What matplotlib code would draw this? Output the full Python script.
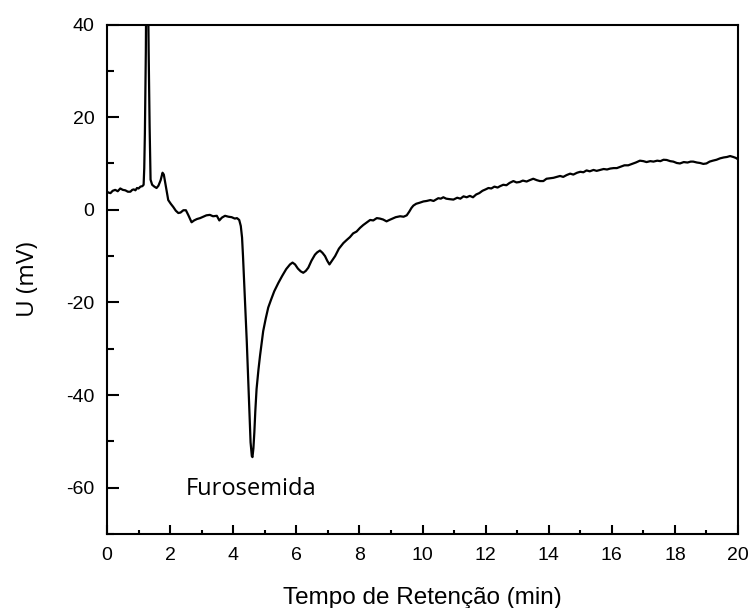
import numpy as np
import matplotlib
matplotlib.use('Agg')
import matplotlib.pyplot as plt
from matplotlib.ticker import MultipleLocator

plt.rcParams['axes.unicode_minus'] = False

tempo = [0.00, 0.05, 0.11, 0.18, 0.26, 0.34, 0.42, 0.50, 0.58, 0.66, 0.74, 0.80, 0.85, 0.90, 0.95, 1.00,
         1.06, 1.12, 1.16, 1.18, 1.20, 1.23, 1.25, 1.29, 1.32, 1.35, 1.38, 1.43, 1.50, 1.57, 1.63, 1.70,
         1.76, 1.80, 1.87, 1.94, 2.02, 2.10, 2.18, 2.26, 2.33, 2.42, 2.50, 2.58, 2.68, 2.76, 2.85, 2.95,
         3.05, 3.15, 3.26, 3.36, 3.48, 3.56, 3.64, 3.74, 3.85, 3.95, 4.05, 4.12, 4.19, 4.24, 4.28, 4.31,
         4.37, 4.43, 4.48, 4.52, 4.55, 4.59, 4.61, 4.64, 4.67, 4.70, 4.74, 4.80, 4.85, 4.95, 5.03, 5.11,
         5.20, 5.30, 5.43, 5.55, 5.68, 5.80, 5.88, 5.96, 6.05, 6.14, 6.22, 6.30, 6.38, 6.48, 6.59, 6.66,
         6.75, 6.83, 6.91, 6.98, 7.05, 7.13, 7.23, 7.35, 7.49, 7.60, 7.70, 7.80, 7.91, 8.02, 8.12, 8.22,
         8.34, 8.44, 8.55, 8.65, 8.75, 8.86, 8.95, 9.05, 9.15, 9.29, 9.40, 9.50, 9.58, 9.65, 9.71, 9.80,
         9.90, 10.03, 10.13, 10.25, 10.35, 10.50, 10.58, 10.66, 10.75, 10.85, 10.98, 11.10, 11.20, 11.30,
         11.40, 11.50, 11.60, 11.70, 11.80, 11.90, 12.00, 12.09, 12.18, 12.28, 12.38, 12.46, 12.56, 12.66,
         12.76, 12.88, 12.98, 13.08, 13.18, 13.30, 13.40, 13.51, 13.62, 13.72, 13.83, 13.93, 14.05, 14.15,
         14.26, 14.36, 14.46, 14.57, 14.68, 14.78, 14.90, 15.00, 15.10, 15.20, 15.30, 15.42, 15.52, 15.63,
         15.74, 15.85, 15.95, 16.06, 16.16, 16.28, 16.40, 16.52, 16.64, 16.76, 16.89, 17.00, 17.10, 17.22,
         17.32, 17.44, 17.54, 17.64, 17.74, 17.85, 17.95, 18.06, 18.16, 18.28, 18.40, 18.50, 18.58, 18.70,
         18.80, 18.90, 19.00, 19.10, 19.20, 19.32, 19.43, 19.55, 19.65, 19.75, 19.85, 19.93, 20.00]
sinal = [3.9, 3.7, 3.6, 4.1, 4.3, 4.0, 4.6, 4.3, 4.2, 3.9, 3.9, 4.3, 4.4, 4.2, 4.7, 4.6,
         5.0, 5.1, 5.4, 9.0, 16.5, 34.0, 55.0, 55.0, 34.0, 18.0, 6.5, 5.4, 5.0, 4.7, 5.2, 6.4,
         8.0, 7.6, 4.8, 2.1, 1.3, 0.6, -0.2, -0.7, -0.6, -0.1, -0.1, -1.2, -2.7, -2.3, -2.0, -1.8,
         -1.5, -1.2, -1.1, -1.4, -1.3, -2.3, -1.7, -1.3, -1.5, -1.6, -1.9, -1.8, -2.2, -3.5, -6.0, -10.0,
         -19.4, -28.5, -37.3, -44.5, -50.2, -53.2, -53.4, -51.5, -48.0, -43.5, -38.7, -34.5, -31.5, -26.2, -23.5, -21.1,
         -19.4, -17.6, -15.8, -14.3, -12.8, -11.8, -11.4, -11.8, -12.7, -13.3, -13.6, -13.2, -12.5, -11.0, -9.7, -9.2,
         -8.8, -9.3, -10.0, -11.0, -11.8, -11.0, -10.0, -8.4, -7.2, -6.5, -5.9, -5.1, -4.7, -3.9, -3.3, -2.8,
         -2.2, -2.3, -1.8, -1.9, -2.1, -2.5, -2.2, -1.9, -1.6, -1.4, -1.5, -1.2, -0.4, 0.4, 0.9, 1.3,
         1.5, 1.8, 1.9, 2.1, 1.9, 2.5, 2.4, 2.7, 2.4, 2.3, 2.2, 2.6, 2.4, 2.9,
         2.7, 3.0, 2.7, 3.3, 3.6, 4.1, 4.4, 4.7, 4.6, 5.0, 4.8, 5.1, 5.4, 5.3,
         5.8, 6.2, 5.9, 6.0, 6.3, 6.1, 6.4, 6.7, 6.4, 6.2, 6.2, 6.7, 6.8, 6.9,
         7.1, 7.3, 7.1, 7.5, 7.8, 7.6, 8.0, 8.2, 8.1, 8.5, 8.3, 8.6, 8.4, 8.6,
         8.8, 8.7, 8.9, 9.0, 9.0, 9.3, 9.6, 9.6, 9.9, 10.2, 10.6, 10.5, 10.3, 10.5,
         10.4, 10.6, 10.5, 10.8, 10.75, 10.5, 10.4, 10.1, 10.0, 10.3, 10.2, 10.4, 10.4, 10.2,
         10.1, 9.9, 10.0, 10.4, 10.6, 10.8, 11.1, 11.3, 11.4, 11.6, 11.4, 11.2, 10.9]

x_ticks = [0, 2, 4, 6, 8, 10, 12, 14, 16, 18, 20]
y_ticks = [-60, -40, -20, 0, 20, 40]

fig = plt.figure(figsize=(7.5, 6.08), dpi=100)
ax = fig.add_axes([0.1427, 0.1217, 0.8413, 0.838])

ax.plot(tempo, sinal, color='black', linewidth=1.6)
ax.set_xlim(0, 20)
ax.set_ylim(-70, 40)
ax.set_xticks(x_ticks)
ax.set_yticks(y_ticks)
ax.xaxis.set_minor_locator(MultipleLocator(1))
ax.yaxis.set_minor_locator(MultipleLocator(10))

ax.tick_params(axis='both', which='both', direction='in', width=1.5, labelsize=14,
               top=False, right=False)
ax.tick_params(axis='x', which='major', length=6.5, pad=9)
ax.tick_params(axis='x', which='minor', length=3)
ax.tick_params(axis='y', which='major', length=8.5, pad=9)
ax.tick_params(axis='y', which='minor', length=5)
for lab in ax.get_xticklabels() + ax.get_yticklabels():
    lab.set_family('Liberation Sans')
for s in ax.spines.values():
    s.set_linewidth(1.5)

ax.set_xlabel('Tempo de Retenção (min)', family='Liberation Sans', fontsize=17.5, labelpad=17)
ax.set_ylabel('U (mV)', family='Open Sans', fontsize=17.5, labelpad=19)
ax.text(2.5, -61.5, 'Furosemida', family='Open Sans', fontsize=17, ha='left', va='baseline')

fig.savefig('out.png', dpi=100)
